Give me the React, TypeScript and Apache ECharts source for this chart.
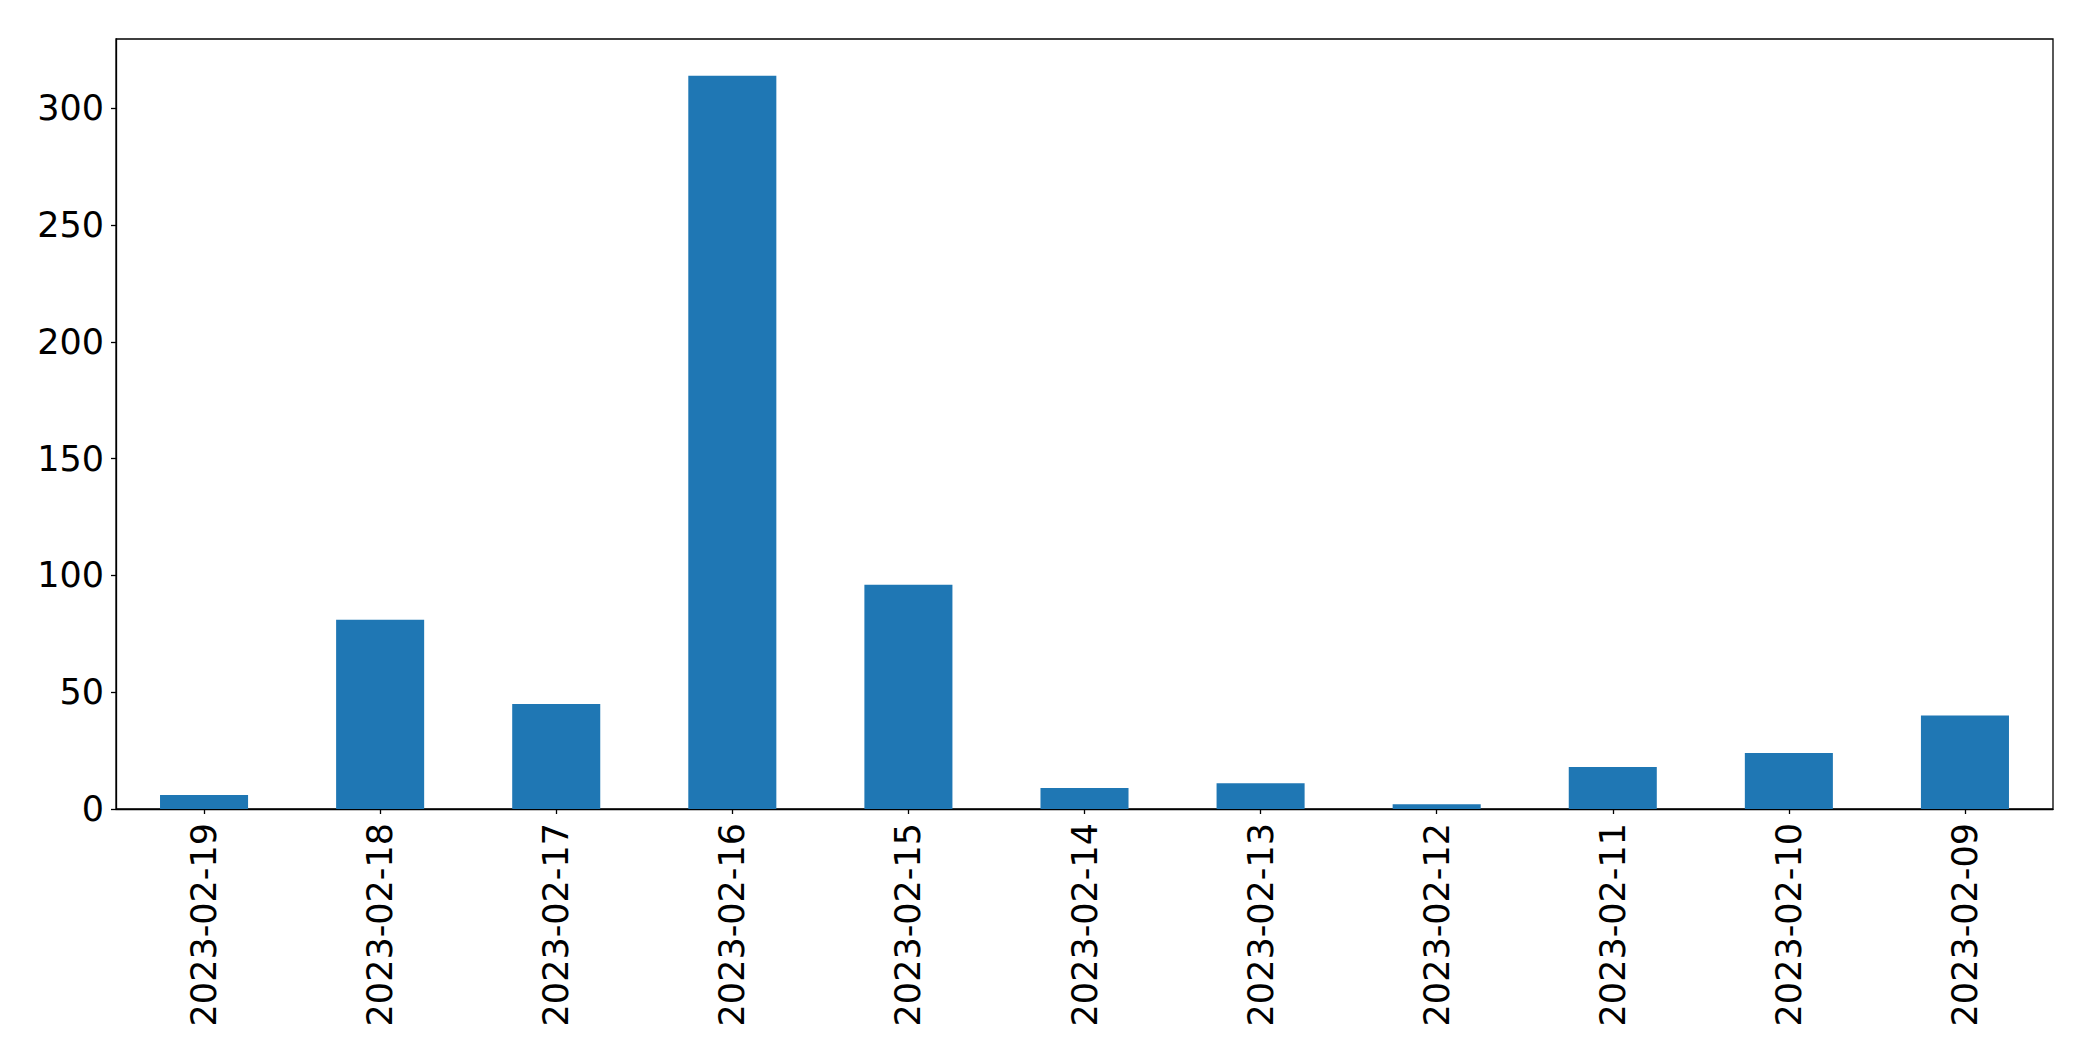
import React, { useEffect, useRef } from "react";
import * as echarts from "echarts";

const categories = [
  "2023-02-19", "2023-02-18", "2023-02-17", "2023-02-16", "2023-02-15", "2023-02-14",
  "2023-02-13", "2023-02-12", "2023-02-11", "2023-02-10", "2023-02-09",
];
const counts = [6, 81, 45, 314, 96, 9, 11, 2, 18, 24, 40];
const yTicks = [0, 50, 100, 150, 200, 250, 300];

export default function App() {
  const ref = useRef<HTMLDivElement>(null);
  useEffect(() => {
    if (!ref.current) return;
    const chart = echarts.init(ref.current, undefined, { renderer: "svg" });
    const font = "DejaVu Sans";
    chart.setOption({
      animation: false,
      backgroundColor: "#ffffff",
      grid: {
        left: 116,
        right: 40,
        top: 39,
        bottom: 252,
        show: true,
        borderColor: "#000000",
        borderWidth: 1.3,
        backgroundColor: "transparent",
      },
      xAxis: {
        type: "category",
        data: categories,
        axisLine: { show: true, lineStyle: { color: "#000000", width: 1.3 } },
        axisTick: { show: true, alignWithLabel: true, length: 5, lineStyle: { color: "#000000", width: 1.3 } },
        axisLabel: {
          rotate: 90,
          interval: 0,
          margin: 14,
          color: "#000000",
          fontFamily: font,
          fontSize: 35,
        },
        splitLine: { show: false },
      },
      yAxis: {
        type: "value",
        min: 0,
        max: Math.max(...counts) * 1.05,
        interval: 50,
        axisLine: { show: true, lineStyle: { color: "#000000", width: 1.3 } },
        axisTick: { show: true, length: 5, customValues: yTicks, lineStyle: { color: "#000000", width: 1.3 } },
        axisLabel: {
          margin: 12,
          color: "#000000",
          fontFamily: font,
          fontSize: 35,
          customValues: yTicks,
        },
        splitLine: { show: false },
      },
      series: [
        {
          type: "bar",
          data: counts,
          barWidth: "50%",
          itemStyle: { color: "#1f77b4" },
        },
      ],
    });
    return () => chart.dispose();
  }, []);
  return (
    <div
      ref={ref}
      style={{ position: "fixed", left: 0, top: 0, width: "2093px", height: "1061px" }}
    />
  );
}
